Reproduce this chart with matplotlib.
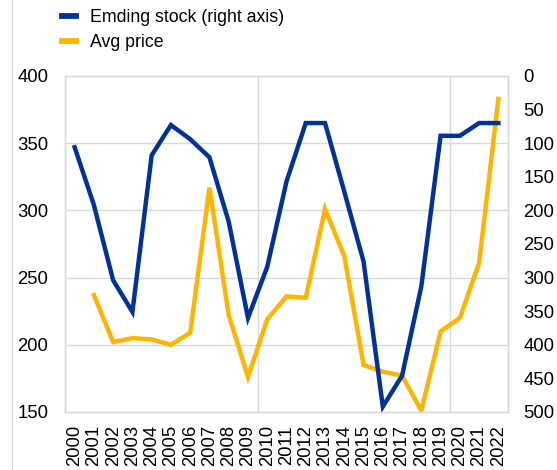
import matplotlib.pyplot as plt
import numpy as np
from matplotlib.lines import Line2D

# values
years = [str(y) for y in range(2000, 2023)]
ending_stock = [106, 192, 304, 351, 118, 73, 94, 121, 217, 360, 284, 157,
                70, 70, 172, 276, 492, 446, 313, 89, 89, 70, 70]
avg_price_years = years[1:]
avg_price = [237, 202, 205, 204, 200, 209, 317, 222, 176, 219, 236, 235,
             301, 266, 185, 180, 177, 151, 210, 220, 261, 383]

blue = '#003299'
yellow = '#FFB400'
grid_c = '#d9d9d9'

plt.rcParams['font.family'] = ['Liberation Sans', 'DejaVu Sans']
plt.rcParams['font.size'] = 13.3

fig = plt.figure(figsize=(5.57, 4.70), dpi=100)
ax = fig.add_axes([65 / 557, 1 - 412 / 470, 443 / 557, 336 / 470])
ax2 = ax.twinx()

x = np.arange(len(years))
x_price = np.arange(1, len(years))

ax.plot(x_price, avg_price, color=yellow, lw=3.2, solid_joinstyle='miter')
ax2.plot(x, ending_stock, color=blue, lw=3.2, solid_joinstyle='miter')

ax.set_xlim(-0.5, len(years) - 0.5)
ax.set_ylim(150, 400)
ax.set_yticks([150, 200, 250, 300, 350, 400])
ax2.set_ylim(500, 0)
ax2.set_yticks(range(0, 501, 50))

ax.set_xticks(x)
ax.set_xticklabels(years, rotation=90)
ax.tick_params(axis='y', length=0, pad=12)
ax.tick_params(axis='x', length=0, pad=9.5)
ax2.tick_params(length=0, pad=11)

# grid: horizontal at left-axis ticks, vertical every 10 categories
for v in [200, 250, 300, 350]:
    ax.axhline(v, color=grid_c, lw=1, zorder=0)
for v in [9.5, 19.5]:
    ax.axvline(v, color=grid_c, lw=1, zorder=0)

for a in (ax, ax2):
    for s in a.spines.values():
        s.set_color(grid_c)
        s.set_linewidth(1)

handles = [Line2D([], [], color=blue, lw=4.2), Line2D([], [], color=yellow, lw=4.2)]
fig.legend(handles, ['Emding stock (right axis)', 'Avg price'],
           loc='upper left', bbox_to_anchor=(46 / 557, 1 + 7 / 470),
           frameon=False, handlelength=0.8, handletextpad=0.75,
           labelspacing=0.45, fontsize=12.8)

# thin border line on the left of the picture
fig.add_artist(Line2D([12 / 557, 12 / 557], [0, 1], color=grid_c, lw=1,
                      transform=fig.transFigure))

fig.savefig('out.png', dpi=100)
